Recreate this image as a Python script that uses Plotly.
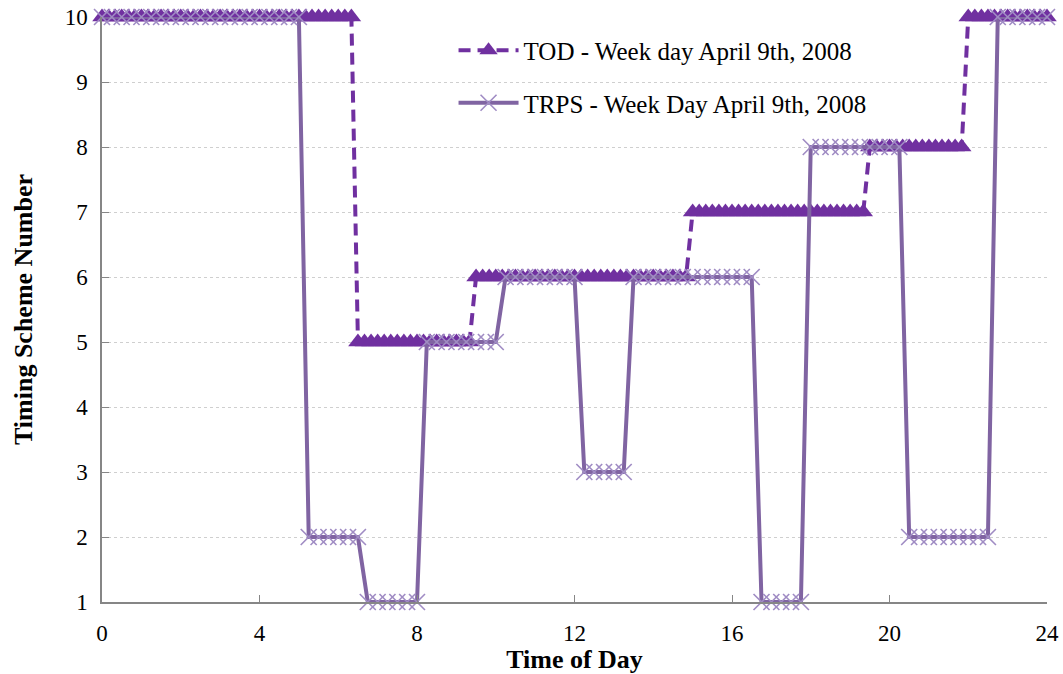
import plotly.graph_objects as go

# Sampling grids (minutes between samples)
TOD_STEP_MIN = 10
TRPS_STEP_MIN = 15

# Timing scheme numbers (one value per sample)
TOD_VALUES = ([10] * 39 + [5] * 18 + [6] * 33 + [7] * 27 + [8] * 15 + [10] * 13)
TRPS_VALUES = ([10] * 21 + [2] * 6 + [1] * 6 + [5] * 8 + [6] * 8 + [3] * 5
               + [6] * 13 + [1] * 5 + [8] * 10 + [2] * 9 + [10] * 6)

TOD_TIMES = [i * TOD_STEP_MIN / 60 for i in range(len(TOD_VALUES))]
TRPS_TIMES = [j * TRPS_STEP_MIN / 60 for j in range(len(TRPS_VALUES))]

TOD_NAME = "TOD - Week day April 9th, 2008"
TRPS_NAME = "TRPS - Week Day April 9th, 2008"

X_TICKS = [0, 4, 8, 12, 16, 20, 24]
Y_TICKS = [1, 2, 3, 4, 5, 6, 7, 8, 9, 10]

FONT = "Liberation Serif, Times New Roman, serif"

fig = go.Figure()
fig.add_trace(go.Scatter(
    x=TOD_TIMES, y=TOD_VALUES, name=TOD_NAME, mode="lines+markers",
    line=dict(color="#7030A0", width=4, dash="12px,7px"),
    marker=dict(symbol="triangle-up", size=17, color="#7030A0"),
    cliponaxis=False, legendrank=1, legendgroup="tod",
))
fig.add_trace(go.Scatter(
    x=TRPS_TIMES, y=TRPS_VALUES, name=TRPS_NAME, mode="lines+markers",
    line=dict(color="#8064A2", width=4),
    marker=dict(symbol="x-thin", size=16, color="#A08CC4",
                line=dict(width=1.6, color="#A08CC4")),
    cliponaxis=False, legendrank=2, legendgroup="trps",
))

fig.update_layout(
    width=1063, height=674,
    margin=dict(l=102, r=16, t=17, b=72, autoexpand=False),
    paper_bgcolor="white", plot_bgcolor="white",
    font=dict(family=FONT, color="black", size=22),
    showlegend=True,
    legend=dict(
        x=0.372, y=0.982, xanchor="left", yanchor="top",
        bgcolor="rgba(0,0,0,0)", font=dict(family=FONT, size=25),
        tracegroupgap=17, traceorder="grouped", itemwidth=60,
    ),
    xaxis=dict(
        range=[0, 24], tickvals=X_TICKS, ticktext=[str(v) for v in X_TICKS],
        showgrid=False, zeroline=False, automargin=False,
        showline=True, linecolor="#868686", linewidth=1.5,
        ticks="inside", ticklen=7, tickcolor="#868686",
        tickfont=dict(family=FONT, size=23), ticklabelstandoff=10,
        title=dict(text="<b>Time of Day</b>", font=dict(family=FONT, size=26), standoff=4),
    ),
    yaxis=dict(
        range=[1, 10], tickvals=Y_TICKS, ticktext=[str(v) for v in Y_TICKS],
        showgrid=True, gridcolor="#CFCFCF", griddash="dot", gridwidth=1,
        zeroline=False, automargin=False,
        showline=True, linecolor="#868686", linewidth=1.5,
        ticks="inside", ticklen=7, tickcolor="#868686",
        tickfont=dict(family=FONT, size=23), ticklabelstandoff=8,
        title=dict(text="<b>Timing Scheme Number</b>", font=dict(family=FONT, size=26), standoff=25),
    ),
)

fig.write_html(
    "out.html",
    config={"displayModeBar": False},
    post_script="document.body.style.margin='0px';document.body.style.overflow='hidden';",
)
